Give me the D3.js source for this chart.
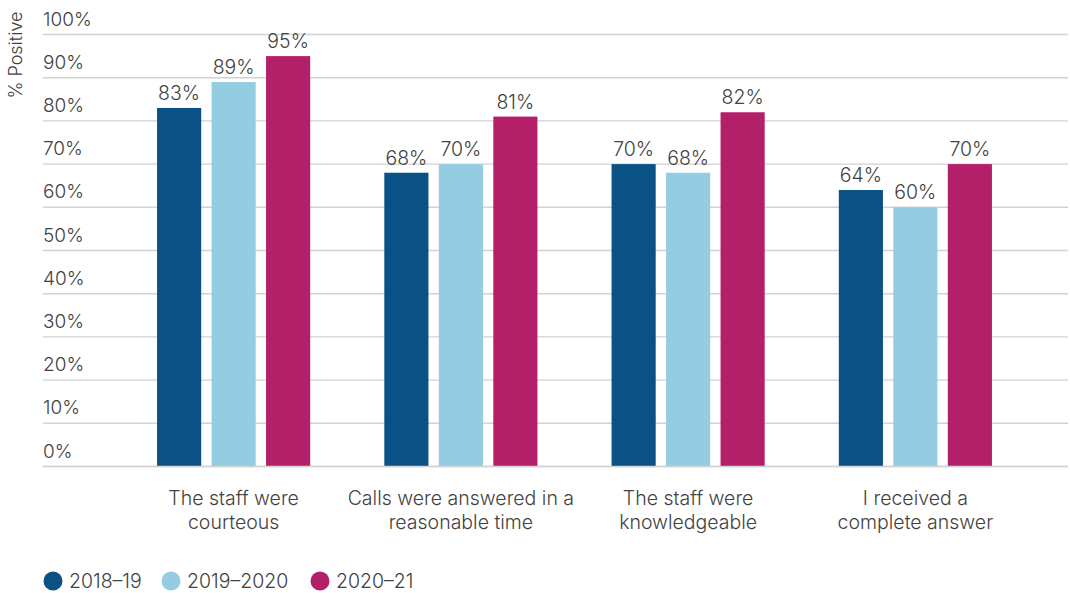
<!DOCTYPE html>
<html>
<head>
<meta charset="utf-8">
<script src="https://cdn.jsdelivr.net/npm/d3@7"></script>
<style>
  html, body { margin: 0; padding: 0; background: #fff; }
  svg { display: block; font-family: Inter, "Open Sans", sans-serif; }
</style>
</head>
<body>
<svg id="chart" width="1070" height="593"></svg>
<script>
// Survey categories (two-line labels)
const categories = [
  ["The staff were", "courteous"],
  ["Calls were answered in a", "reasonable time"],
  ["The staff were", "knowledgeable"],
  ["I received a", "complete answer"]
];
const seriesNames = ["2018–19", "2019–2020", "2020–21"];
const values2018 = [83, 68, 70, 64];
const values2019 = [89, 70, 68, 60];
const values2020 = [95, 81, 82, 70];
const yTicks = [0, 10, 20, 30, 40, 50, 60, 70, 80, 90, 100];
const colors = ["#0a5286", "#94cde1", "#b41f6a"];

const seriesValues = [values2018, values2019, values2020];
const catKeys = categories.map(c => c.join(" "));

const svg = d3.select("#chart");
const textColor = "#424242";
const weight = 350;

const y = d3.scaleLinear().domain([0, 100]).range([466.5, 34.5]);
const x0 = d3.scaleBand().domain(catKeys).range([120, 1029]);
const x1 = d3.scaleBand().domain(seriesNames).range([0, x0.bandwidth()])
  .paddingInner(0.19).paddingOuter(0.68);

// Gridlines with labels sitting above each line
const grid = svg.append("g");
grid.selectAll("line").data(yTicks).join("line")
  .attr("x1", 43).attr("x2", 1068)
  .attr("y1", d => y(d)).attr("y2", d => y(d))
  .attr("stroke", "#d2d2d2").attr("stroke-width", 1.4);
grid.selectAll("text").data(yTicks).join("text")
  .attr("x", 43).attr("y", d => y(d) - 9)
  .attr("font-size", 19).attr("fill", textColor)
  .attr("font-weight", weight)
  .text(d => d + "%");

// Axis title
svg.append("text")
  .attr("transform", "translate(22,55) rotate(-90)")
  .attr("text-anchor", "middle")
  .attr("font-size", 18).attr("fill", textColor)
  .attr("font-weight", weight)
  .text("% Positive");

// Bars
const groups = svg.append("g").selectAll("g").data(catKeys).join("g")
  .attr("transform", d => `translate(${x0(d)},0)`);

const barData = (d, i) => seriesNames.map((s, j) => ({ series: s, value: seriesValues[j][i], color: colors[j] }));

groups.each(function (d, i) {
  const g = d3.select(this);
  const data = barData(d, i);
  g.selectAll("rect").data(data).join("rect")
    .attr("x", b => x1(b.series))
    .attr("width", x1.bandwidth())
    .attr("y", b => y(b.value))
    .attr("height", b => y(0) - y(b.value))
    .attr("fill", b => b.color);
  g.selectAll("text.val").data(data).join("text")
    .attr("class", "val")
    .attr("x", b => x1(b.series) + x1.bandwidth() / 2)
    .attr("y", b => y(b.value) - 8)
    .attr("text-anchor", "middle")
    .attr("font-size", 19.5).attr("fill", textColor)
    .attr("font-weight", weight)
    .text(b => b.value + "%");
});

// Baseline
svg.append("line")
  .attr("x1", 43).attr("x2", 1068)
  .attr("y1", y(0)).attr("y2", y(0))
  .attr("stroke", "#d2d2d2").attr("stroke-width", 1.6);

// Category labels
const catLabels = svg.append("g").selectAll("text").data(categories).join("text")
  .attr("text-anchor", "middle")
  .attr("font-size", 19.5).attr("fill", textColor)
  .attr("font-weight", weight)
  .attr("transform", (d, i) => `translate(${x0(catKeys[i]) + x0.bandwidth() / 2},505)`);
catLabels.selectAll("tspan").data(d => d).join("tspan")
  .attr("x", 0).attr("dy", (d, i) => i === 0 ? 0 : 23.5)
  .text(d => d);

// Legend
const legendX = [53, 171, 320];
const legend = svg.append("g").selectAll("g").data(seriesNames).join("g")
  .attr("transform", (d, i) => `translate(${legendX[i]},581)`);
legend.append("circle").attr("r", 9.5).attr("fill", (d, i) => colors[i]);
legend.append("text")
  .attr("x", 16).attr("y", 7)
  .attr("font-size", 19.5).attr("fill", textColor)
  .attr("font-weight", weight)
  .text(d => d);
</script>
</body>
</html>
